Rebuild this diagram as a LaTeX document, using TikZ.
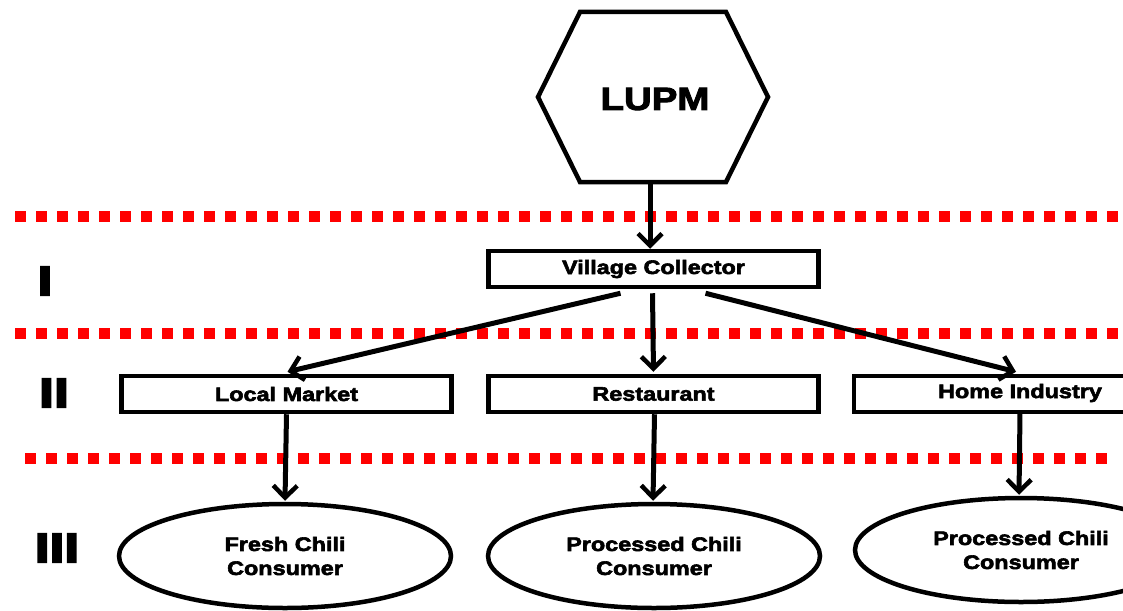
\documentclass[tikz,border=0pt]{standalone}
\usepackage{fontspec}
\setmainfont{Liberation Sans}
\newfontfamily\heavyfont{Liberation Sans Bold}[FakeStretch=1.2, FakeBold=3]
\newfontfamily\tierfont{Liberation Sans Bold}[FakeStretch=1.3, FakeBold=5]
\usetikzlibrary{arrows.meta,calc,shapes.geometric}
\begin{document}
\begin{tikzpicture}[x=1pt,y=-1pt,
  every node/.style={font=\heavyfont\fontsize{19.5}{24}\selectfont, text=black, inner sep=0pt},
  levelbox/.style={draw=black, line width=4.5pt, minimum width=330pt, minimum height=36pt},
  consumer/.style={draw=black, line width=4.5pt, ellipse, minimum width=332pt, minimum height=104pt, align=center},
  flow/.style={draw=black, line width=5pt, -{Straight Barb[length=12pt,width=24pt,line width=4.5pt]}},
  divider/.style={draw=red, line width=11pt, dash pattern=on 11pt off 10pt},
  tier/.style={font=\tierfont\fontsize{41}{41}\selectfont}]
\useasboundingbox (0,0) rectangle (1123,610);
\clip (0,0) rectangle (1123,610);

% level separators
\draw[divider] (15,216) -- (1130,216);
\draw[divider] (15,333) -- (1130,333);
\draw[divider] (25,458) -- (1116,458);

% tier labels
\node[tier] (t1) at (45,281) {I};
\node[tier] (t2) at (54,393) {II};
\node[tier] (t3) at (57,548) {III};

% source
\draw[line width=4.5pt, line join=miter] (580,12) -- (726,12) -- (768,97) -- (726,182) -- (580,182) -- (538,97) -- cycle;
\node[minimum width=230pt, minimum height=170pt, font=\heavyfont\fontsize{32}{32}\selectfont] (lupm) at (655,99) {LUPM};

% level I
\node[levelbox] (vc) at (653.5,269) {Village Collector};

% level II
\node[levelbox] (lm) at (286.5,394) {Local Market};
\node[levelbox] (rs) at (653.5,394) {Restaurant};
\node[levelbox, minimum width=340pt] (hi) at (1024,394) {};
\node (hitext) at (1020,393) {Home Industry};

% level III
\node[consumer] (fc) at (285,556) {Fresh Chili\\Consumer};
\node[consumer] (pc1) at (654,556) {Processed Chili\\Consumer};
\node[consumer] (pc2) at (1021,550) {Processed Chili\\Consumer};

% flows
\draw[flow] (lupm.south -| 650,0) -- (vc.north -| 650,0);
\draw[flow] ($(vc.south)+(-33,4)$) -- ($(lm.north)+(1,-2)$);
\draw[flow] ($(vc.south)+(-1,4)$) -- ($(rs.north)+(0,-2)$);
\draw[flow] ($(vc.south)+(52,4)$) -- ($(hi.north)+(-8,-2)$);
\draw[flow] ($(lm.south)+(0,0)$) -- ($(fc.north)+(0,-1)$);
\draw[flow] ($(rs.south)+(1,0)$) -- ($(pc1.north)+(-1,-1)$);
\draw[flow] ($(hitext.south)+(0,10)$) -- ($(pc2.north)+(-2,-1)$);
\end{tikzpicture}
\end{document}
